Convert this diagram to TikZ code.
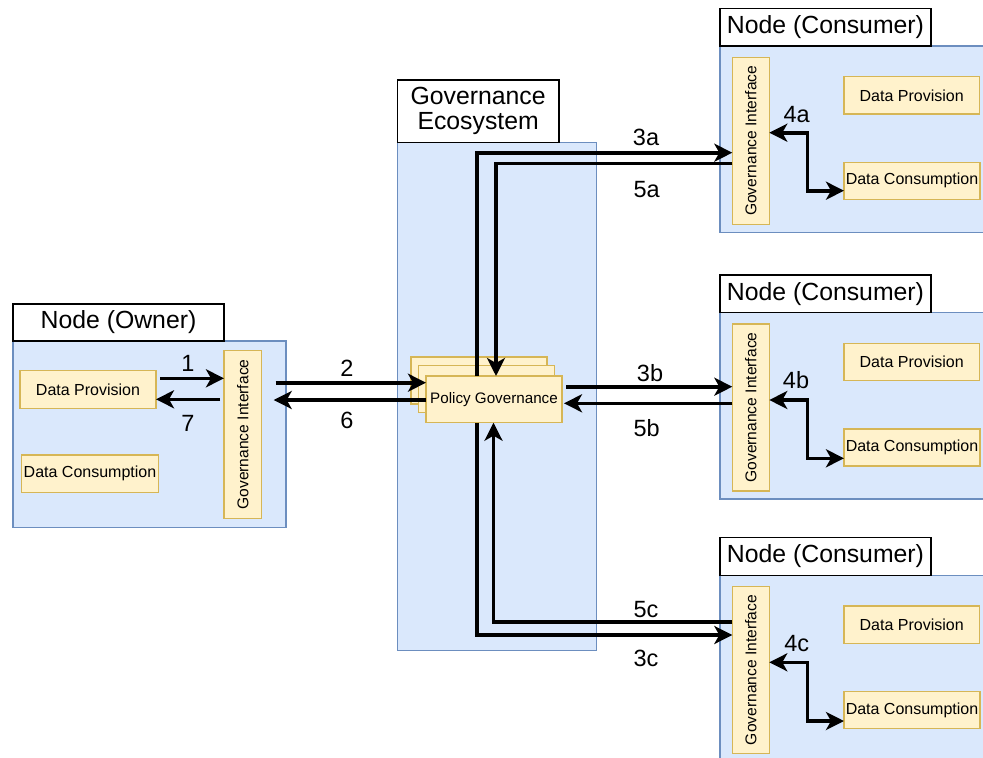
\documentclass[tikz,border=0pt]{standalone}
\usepackage{fontspec}
\setmainfont{Liberation Sans}
\usetikzlibrary{arrows.meta}
\definecolor{bfill}{HTML}{DAE8FC}
\definecolor{bdraw}{HTML}{6C8EBF}
\definecolor{yfill}{HTML}{FFF2CC}
\definecolor{ydraw}{HTML}{D6B656}
\newcommand{\consumerblock}[2]{%
  \node[bluebox, minimum width=300, minimum height=186.3] (bl#1) at (720,{46+#2}) {};
  \node[titlebox, minimum width=211, minimum height=37.7] (ti#1) at (720,{8.3+#2}) {Node (Consumer)};
  \node[ybox, minimum width=37, minimum height=167] (gi#1) at (732.3,{57.3+#2}) {};
  \node[vtext] (git#1) at (gi#1.center) {Governance Interface};
  \node[ybox, minimum width=135.3, minimum height=37.3] (dp#1) at (844,{76.7+#2}) {Data Provision};
  \node[ybox, minimum width=136, minimum height=37] (dc#1) at (844,{162.3+#2}) {Data Consumption};
}
\begin{document}
\begin{tikzpicture}[x=1pt,y=-1pt,
 bluebox/.style={draw=bdraw, fill=bfill, line width=1.3pt, inner sep=0pt, outer sep=0pt, anchor=north west},
 titlebox/.style={draw=black, fill=white, line width=1.1pt, font=\fontsize{24.8}{28}\selectfont, inner sep=0pt, outer sep=0pt, align=center, anchor=north west},
 ybox/.style={draw=ydraw, fill=yfill, line width=1.3pt, inner sep=0pt, outer sep=0pt, anchor=north west, font=\fontsize{16}{18}\selectfont},
 vtext/.style={rotate=90, font=\fontsize{15.6}{18}\selectfont, inner sep=0pt},
 lbl/.style={font=\fontsize{23.5}{26}\selectfont, inner sep=0pt},
 arr/.style={line width=3.6pt, -{Stealth[length=18pt,width=18pt,inset=5pt]}},
 dbl/.style={line width=3.6pt, {Stealth[length=18pt,width=18pt,inset=5pt]}-{Stealth[length=18pt,width=18pt,inset=5pt]}},
]
\useasboundingbox (0,0) rectangle (983,758);
\fill[white] (0,0) rectangle (983,758);

% Owner node
\node[bluebox, minimum width=273, minimum height=186.7] (blo) at (13,341) {};
\node[titlebox, minimum width=211, minimum height=37] (tio) at (13,304) {Node (Owner)};
\node[ybox, minimum width=136, minimum height=37.6] (dpo) at (20,370.7) {Data Provision};
\node[ybox, minimum width=136.6, minimum height=37.3] (dco) at (21.7,455) {Data Consumption};
\node[ybox, minimum width=37.7, minimum height=167.6] (gio) at (224,350.7) {};
\node[vtext] (gito) at (gio.center) {Governance Interface};

% Governance ecosystem
\node[bluebox, minimum width=199.4, minimum height=508] (ble) at (397.3,142.7) {};
\node[titlebox, minimum width=161.7, minimum height=62.7] (tie) at (397.3,80) {Governance\\[-3pt]Ecosystem};
\node[ybox, minimum width=136, minimum height=47] (pg3) at (411,357) {};
\node[ybox, minimum width=136, minimum height=47] (pg2) at (418.5,365.5) {};
\node[ybox, minimum width=136, minimum height=46.7, font=\fontsize{15.2}{18}\selectfont] (pg) at (426,376) {Policy Governance};

% Consumer nodes
\consumerblock{a}{0}
\consumerblock{b}{266.7}
\consumerblock{c}{529.3}

% Owner arrows
\draw[arr, shorten <=4pt] (dpo.east |- 0,378.3) -- (gio.west |- 0,378.3);
\draw[arr, shorten <=4pt] (gio.west |- 0,399.3) -- (dpo.east |- 0,399.3);
\node[lbl] (l1) at (188,363.7) {1};
\node[lbl] (l7) at (188,423) {7};

\draw[arr, shorten <=14pt] (gio.east |- 0,382.7) -- (pg.west |- 0,382.7);
\draw[arr, shorten >=12pt] (pg.west |- 0,400) -- (gio.east |- 0,400);
\node[lbl] (l2) at (347,368) {2};
\node[lbl] (l6) at (347,420) {6};

% Consumer a
\draw[arr] (pg.north -| 477,0) |- (gia.west |- 0,152.7);
\draw[arr] (gia.west |- 0,163.3) -| (pg.north -| 496,0);
\node[lbl] (l3a) at (646,137) {3a};
\node[lbl] (l5a) at (646.7,190) {5a};

% Consumer b
\draw[arr, shorten <=4pt] (pg.east |- 0,386.7) -- (gib.west |- 0,386.7);
\draw[arr, shorten >=2pt] (gib.west |- 0,403.3) -- (pg.east |- 0,403.3);
\node[lbl] (l3b) at (650,372.7) {3b};
\node[lbl] (l5b) at (646.7,428) {5b};

% Consumer c
\draw[arr] (gic.west |- 0,622) -| (pg.south -| 493.5,0);
\draw[arr] (pg.south -| 477,0) |- (gic.west |- 0,635);
\node[lbl] (l5c) at (646,609.3) {5c};
\node[lbl] (l3c) at (646,658.3) {3c};

% Internal consumer arrows
\draw[dbl] (gia.east |- 0,132.7) -- (807.3,132.7) |- (dca.west |- 0,190.7);
\draw[dbl] (gib.east |- 0,400) -- (807.3,400) |- (dcb.west |- 0,458.3);
\draw[dbl] (gic.east |- 0,662.3) -- (807.3,662.3) |- (dcc.west |- 0,721);
\node[lbl] (l4a) at (796.7,114.3) {4a};
\node[lbl] (l4b) at (796,380) {4b};
\node[lbl] (l4c) at (796.7,643.3) {4c};
\end{tikzpicture}
\end{document}
